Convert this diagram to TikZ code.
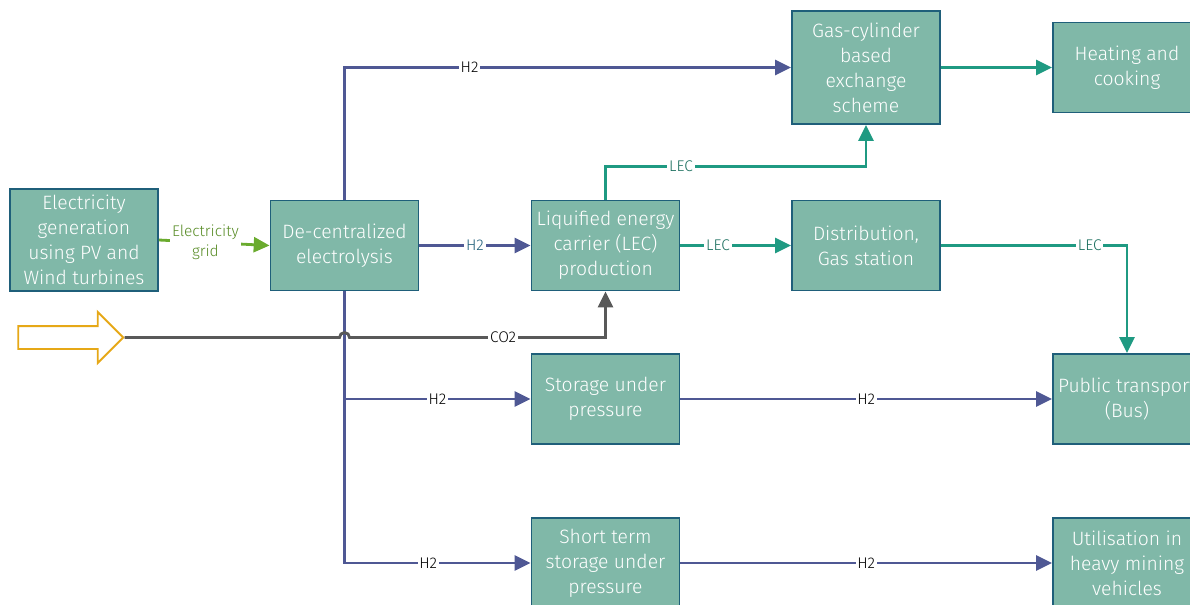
\documentclass[tikz,border=0pt]{standalone}
\usepackage{fontspec}
\setmainfont{Fira Sans}[UprightFont=* Light]
\usepackage{xcolor}
\usepackage{tikz}
\usetikzlibrary{arrows.meta,shapes.arrows,calc}

\definecolor{boxfill}{RGB}{128,184,168}
\definecolor{boxline}{RGB}{31,95,122}
\definecolor{hydro}{RGB}{79,88,148}
\definecolor{carrier}{RGB}{31,154,130}
\definecolor{grid}{RGB}{106,171,46}
\definecolor{gridtext}{RGB}{88,140,38}
\definecolor{carbon}{RGB}{89,89,89}
\definecolor{feedline}{RGB}{230,168,23}

\begin{document}
\begin{tikzpicture}[
    unit/.style={draw=boxline, line width=1.1pt, fill=boxfill, text=white,
        minimum width=2.96cm, minimum height=1.8cm, align=center, inner sep=2pt,
        font=\fontsize{11}{14.2}\selectfont},
    flow/.style={line width=1.6pt, -{Triangle[length=9pt,width=8.5pt]}},
    htwo/.style={flow, draw=hydro},
    lec/.style={flow, draw=carrier},
    lab/.style={fill=white, inner sep=1pt, font=\fontsize{8.8}{10}\selectfont}
    ]
    \clip (0,0) rectangle (23.8,-12.08);

    % process boxes
    \node[unit, minimum height=2.04cm] (gen) at (1.68,-4.80)
        {Electricity\\generation\\using PV and\\Wind turbines};
    \node[unit] (elec) at (6.89,-4.91) {De-centralized\\electrolysis};
    \node[unit] (lecp) at (12.11,-4.91) {Liquified energy\\carrier (LEC)\\production};
    \node[unit, minimum height=2.26cm] (gas) at (17.32,-1.35)
        {Gas-cylinder\\based\\exchange\\scheme};
    \node[unit] (heat) at (22.54,-1.35) {Heating and\\cooking};
    \node[unit] (dist) at (17.32,-4.91) {Distribution,\\Gas station};
    \node[unit] (bus) at (22.54,-7.98) {Public transport\\(Bus)};
    \node[unit] (store) at (12.11,-7.98) {Storage under\\pressure};
    \node[unit] (short) at (12.11,-11.26) {Short term\\storage under\\pressure};
    \node[unit] (mine) at (22.54,-11.26) {Utilisation in\\heavy mining\\vehicles};

    % CO2 feed
    \node[single arrow, draw=feedline, fill=white, line width=1.1pt,
        minimum height=2.1cm, inner xsep=0pt, inner ysep=0.21cm,
        single arrow head extend=0.28cm] (feed) at (1.3,-6.75) {};

    % connections
    \draw[flow, draw=grid] (gen.east) -- node[lab, text=gridtext, align=center, pos=0.42,
        font=\fontsize{8.8}{11}\selectfont] {Electricity\\grid} (elec.west);
    \draw[htwo] (elec.north) |- node[lab, pos=0.64] {H2} (gas.west);
    \draw[htwo] (elec.east) -- node[lab, text=boxline] {H2} (lecp.west);
    \draw[htwo] (elec.south) |- node[lab, pos=0.725] {H2} (short.west);
    \draw[htwo] (elec.south |- store.west) -- node[lab] {H2} (store.west);
    \draw[line width=1.6pt, draw=carbon, -{Triangle[length=9pt,width=8.5pt]}]
        (feed.tip) -- ($(elec.south |- feed.tip)+(-0.1,0)$) arc (180:0:0.1)
        -- node[lab, pos=0.6] {CO2} (lecp.south |- feed.tip) -- (lecp.south);
    \draw[lec] (lecp.north) -- ++(0,0.66) -| node[lab, text=carrier!70!black, pos=0.145] {LEC} (gas.south);
    \draw[lec] (lecp.east) -- node[lab, text=carrier!70!black, pos=0.34] {LEC} (dist.west);
    \draw[lec] (gas.east) -- (heat.west);
    \draw[lec] (dist.east) -| node[lab, text=carrier!70!black, pos=0.4] {LEC} (bus.north);
    \draw[htwo] (store.east) -- node[lab] {H2} (bus.west);
    \draw[htwo] (short.east) -- node[lab] {H2} (mine.west);
\end{tikzpicture}
\end{document}
